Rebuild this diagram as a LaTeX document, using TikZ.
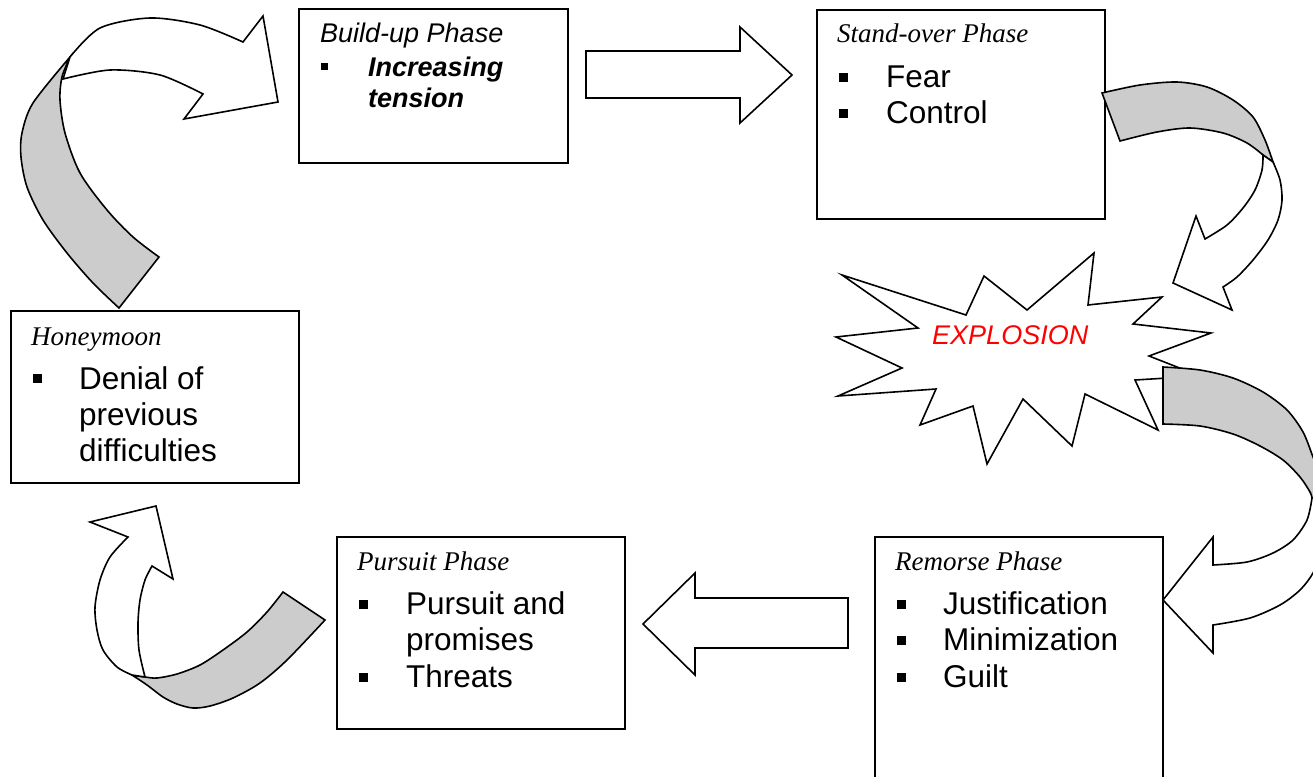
\documentclass[tikz,border=0pt]{standalone}
\usepackage{fontspec}
\setmainfont{Liberation Serif}
\setsansfont{Liberation Sans}
\definecolor{ribbon}{RGB}{204,204,204}
\tikzset{
 box/.style={draw, line width=1.7pt, rectangle, anchor=north west, inner sep=0pt},
 shp/.style={draw, line width=1.6pt, line join=miter},
 head/.style={anchor=base west, inner sep=0pt, font=\fontsize{27}{30}\selectfont\itshape},
 headsans/.style={anchor=base west, inner sep=0pt, font=\fontsize{27}{30}\selectfont\sffamily\itshape},
 item/.style={anchor=base west, inner sep=0pt, font=\fontsize{31.5}{36}\selectfont\sffamily},
 bitem/.style={anchor=base west, inner sep=0pt, font=\fontsize{27}{30}\selectfont\sffamily\bfseries\itshape},
 sq/.style={fill=black, rectangle, minimum size=9pt, inner sep=0pt},
 sqs/.style={fill=black, rectangle, minimum size=7pt, inner sep=0pt},
 boom/.style={anchor=base west, inner sep=0pt, font=\fontsize{27}{30}\selectfont\sffamily\itshape, text=red},
}
\begin{document}
\begin{tikzpicture}[x=1pt,y=-1pt]
\clip (0,0) rectangle (1313,776);
\fill[white] (0,0) rectangle (1313,776);

% ---------- boxes ----------
\node[box, minimum width=269pt, minimum height=154pt] (build) at (298,8) {};
\node[box, minimum width=288pt, minimum height=209pt] (stand) at (816,9) {};
\node[box, minimum width=288pt, minimum height=172pt] (honey) at (10,310) {};
\node[box, minimum width=288pt, minimum height=192pt] (pursuit) at (336,536) {};
\node[box, minimum width=288pt, minimum height=270pt] (remorse) at (874,536) {};

% Build-up
\node[headsans] (bh) at (320,43) {Build-up Phase};
\node[sqs] (bs1) at (324,66.5) {};
\node[bitem] (bi1) at (368,77) {Increasing};
\node[bitem] (bi2) at (368,107) {tension};

% Stand-over
\node[head] (sh) at (837,43) {Stand-over Phase};
\node[sq] (ss1) at (843.5,77.5) {};
\node[item] (si1) at (886,87) {Fear};
\node[sq] (ss2) at (843.5,113) {};
\node[item] (si2) at (886,123) {Control};

% Honeymoon
\node[head] (hh) at (31,345) {Honeymoon};
\node[sq] (hs1) at (37.5,378.5) {};
\node[item] (hi1) at (79,389) {Denial of};
\node[item] (hi2) at (79,425) {previous};
\node[item] (hi3) at (79,461) {difficulties};

% Pursuit
\node[head] (ph) at (357,570) {Pursuit Phase};
\node[sq] (ps1) at (363.5,604) {};
\node[item] (pi1) at (406,614) {Pursuit and};
\node[item] (pi2) at (406,650) {promises};
\node[sq] (ps2) at (363.5,677) {};
\node[item] (pi3) at (406,687) {Threats};

% Remorse
\node[head] (rh) at (895,570) {Remorse Phase};
\node[sq] (rs1) at (901.5,604) {};
\node[item] (ri1) at (943,614) {Justification};
\node[sq] (rs2) at (901.5,640) {};
\node[item] (ri2) at (943,650) {Minimization};
\node[sq] (rs3) at (901.5,677) {};
\node[item] (ri3) at (943,687) {Guilt};

% ---------- straight block arrows ----------
\draw[shp, fill=white] (586,51) -- (740,51) -- (740,27) -- (792,75) -- (740,123) -- (740,98) -- (586,98) -- cycle;
\draw[shp, fill=white] (848,598) -- (695,598) -- (695,573) -- (643,624) -- (695,675) -- (695,648) -- (848,648) -- cycle;

% ---------- explosion ----------
\draw[shp, fill=white] (842,275) -- (966,315) -- (984,276) -- (1027,310) -- (1094,253) -- (1088,305)
  -- (1162,297) -- (1133,324) -- (1211,333) -- (1149,356) -- (1200,376) -- (1135,380) -- (1158,430)
  -- (1085,394) -- (1072,446) -- (1023,399) -- (987,464) -- (973,406) -- (920,425) -- (936,389)
  -- (838,396) -- (902,368) -- (836,337) -- (918,328) -- cycle;
\node[boom] (expl) at (932,344) {EXPLOSION};

% ---------- curved arrow: Honeymoon -> Build-up ----------
\draw[shp, fill=ribbon] plot[smooth] coordinates {(70,57) (33,103) (22,133) (21,157) (27,187) (43,220) (67,253) (93,283) (119,308)}
  -- (159,257) -- plot[smooth] coordinates {(159,257) (133,237) (107,210) (80,173) (65,133) (60,100) (62,77) (70,57)} -- cycle;
\draw[shp, fill=white] plot[smooth] coordinates {(70,57) (100,28) (150,18) (200,25) (243,42)}
  -- (263,16) -- (278,102) -- (184,119) -- (203,94)
  -- plot[smooth] coordinates {(203,94) (160,75) (110,70) (63,79)} -- cycle;

% ---------- curved arrow: Stand-over -> Explosion ----------
\draw[shp, fill=ribbon] plot[smooth] coordinates {(1102,93) (1140,85) (1177,82) (1207,87) (1233,100) (1253,117) (1265,140) (1273,162)}
  -- (1263,155) -- plot[smooth] coordinates {(1263,155) (1247,143) (1223,133) (1190,128) (1157,132) (1120,141)} -- cycle;
\draw[shp, fill=white] plot[smooth] coordinates {(1273,162) (1280,180) (1282,200) (1278,220) (1268,240) (1253,260) (1237,277) (1223,287)}
  -- (1232,310) -- (1173,283) -- (1196,216) -- (1205,239)
  -- plot[smooth] coordinates {(1205,239) (1227,225) (1243,208) (1255,190) (1262,170) (1263,155)} -- cycle;

% ---------- curved arrow: Explosion -> Remorse ----------
\draw[shp, fill=ribbon] plot[smooth] coordinates {(1163,367) (1200,370) (1233,378) (1263,392) (1287,410) (1303,432) (1313,457) (1321,478) (1324,497)}
  -- (1312,498) -- plot[smooth] coordinates {(1312,498) (1310,492) (1300,477) (1283,460) (1260,446) (1233,434) (1200,426) (1163,424)} -- cycle;
\draw[shp, fill=white] plot[smooth] coordinates {(1312,498) (1307,520) (1293,540) (1273,553) (1247,562) (1213,565)}
  -- (1213,537) -- (1163,600) -- (1213,653) -- (1213,625)
  -- plot[smooth] coordinates {(1213,625) (1250,618) (1280,605) (1300,590) (1313,573) (1322,550) (1326,525) (1324,497)} -- cycle;

% ---------- curved arrow: Pursuit -> Honeymoon ----------
\draw[shp, fill=ribbon] plot[smooth] coordinates {(132,675) (147,685) (163,697) (177,704) (193,708) (210,706) (233,698) (260,683) (287,660) (325,620)}
  -- (283,592) -- plot[smooth] coordinates {(283,592) (267,612) (247,632) (223,650) (200,665) (177,674) (157,678) (145,677) (132,675)} -- cycle;
\draw[shp, fill=white] plot[smooth] coordinates {(132,675) (117,667) (103,650) (97,630) (95,607) (100,580) (110,557) (128,537)}
  -- (90,522) -- (156,506) -- (173,579) -- (152,566)
  -- plot[smooth] coordinates {(152,566) (145,580) (140,600) (138,623) (139,650) (145,677)} -- cycle;
\end{tikzpicture}
\end{document}
